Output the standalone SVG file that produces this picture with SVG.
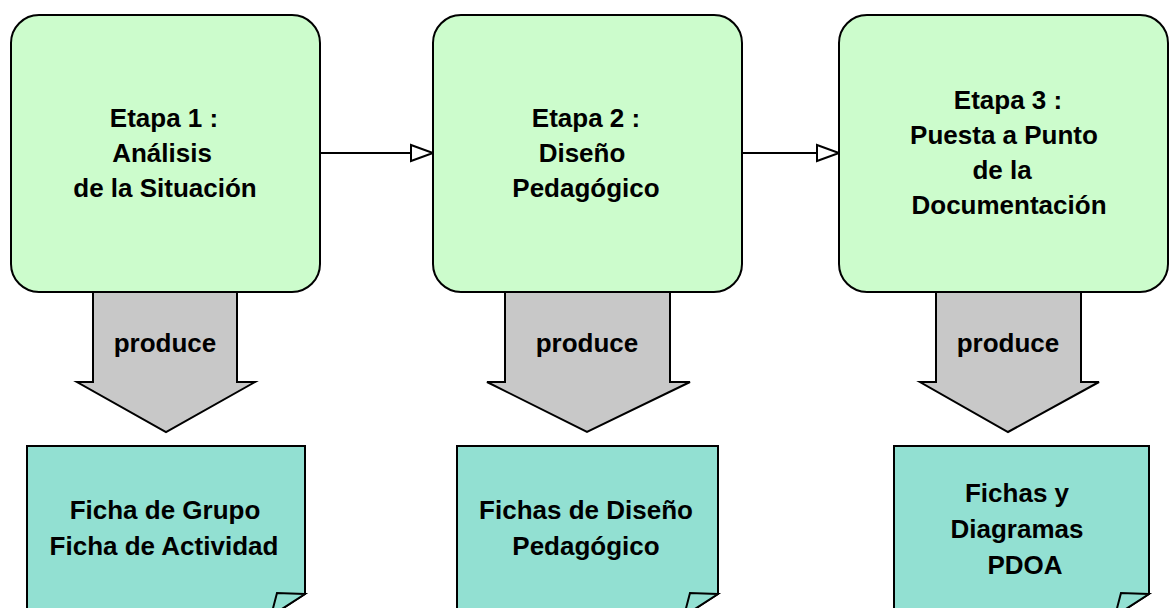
<svg xmlns="http://www.w3.org/2000/svg" width="1170" height="608" viewBox="0 0 1170 608">
<defs>
<style>
.stage{fill:#CCFCCC;stroke:#000;stroke-width:2}
.prod{fill:#C8C8C8;stroke:#000;stroke-width:2;stroke-linejoin:miter}
.note{fill:#92E0D2;stroke:#000;stroke-width:2;stroke-linejoin:miter}
.conn{fill:none;stroke:#000;stroke-width:2}
.ah{fill:#fff;stroke:#000;stroke-width:2}
text{font-family:"Liberation Sans",Arial,sans-serif;font-weight:bold;font-size:26px;fill:#000;text-anchor:middle}
</style>
</defs>
<rect width="1170" height="608" fill="#fff"/>
<g id="connectors">
<line class="conn" x1="320" y1="153" x2="411" y2="153"/>
<polygon class="ah" points="411,145 433,153 411,161"/>
<line class="conn" x1="742" y1="153" x2="817" y2="153"/>
<polygon class="ah" points="817,145 839,153 817,161"/>
</g>
<g id="produce1">
<polygon class="prod" points="93,290 237,290 237,382 255,382 166,432 77,382 93,382"/>
<text x="165" y="352">produce</text>
</g>
<g id="produce2">
<polygon class="prod" points="505,290 670,290 670,382 690,382 587,432 487,382 505,382"/>
<text x="587" y="352">produce</text>
</g>
<g id="produce3">
<polygon class="prod" points="936,290 1081,290 1081,382 1099,382 1008,432 920,382 936,382"/>
<text x="1008" y="352">produce</text>
</g>
<g id="stage1">
<rect class="stage" x="11" y="15" width="309" height="277" rx="28" ry="28"/>
<text x="164" y="127">Etapa 1 :</text>
<text x="162" y="162">Análisis</text>
<text x="165" y="197">de la Situación</text>
</g>
<g id="stage2">
<rect class="stage" x="433" y="15" width="309" height="277" rx="28" ry="28"/>
<text x="586" y="127">Etapa 2 :</text>
<text x="582" y="162">Diseño</text>
<text x="586" y="197">Pedagógico</text>
</g>
<g id="stage3">
<rect class="stage" x="839" y="15" width="329" height="277" rx="28" ry="28"/>
<text x="1008" y="109">Etapa 3 :</text>
<text x="1004" y="144">Puesta a Punto</text>
<text x="1002" y="179">de la</text>
<text x="1009" y="214">Documentación</text>
</g>
<g id="note1">
<path class="note" d="M27,446 H305 V594 L271,616 H27 Z"/>
<path class="note" d="M305,594 L277,593 L271,616 Z"/>
<text x="165" y="519">Ficha de Grupo</text>
<text x="164" y="555">Ficha de Actividad</text>
</g>
<g id="note2">
<path class="note" d="M457,446 H718 V594 L684,616 H457 Z"/>
<path class="note" d="M718,594 L690,593 L684,616 Z"/>
<text x="586" y="519">Fichas de Diseño</text>
<text x="586" y="555">Pedagógico</text>
</g>
<g id="note3">
<path class="note" d="M894,446 H1149 V594 L1115,616 H894 Z"/>
<path class="note" d="M1149,594 L1121,593 L1115,616 Z"/>
<text x="1017" y="502">Fichas y</text>
<text x="1017" y="538">Diagramas</text>
<text x="1025" y="574">PDOA</text>
</g>
</svg>
